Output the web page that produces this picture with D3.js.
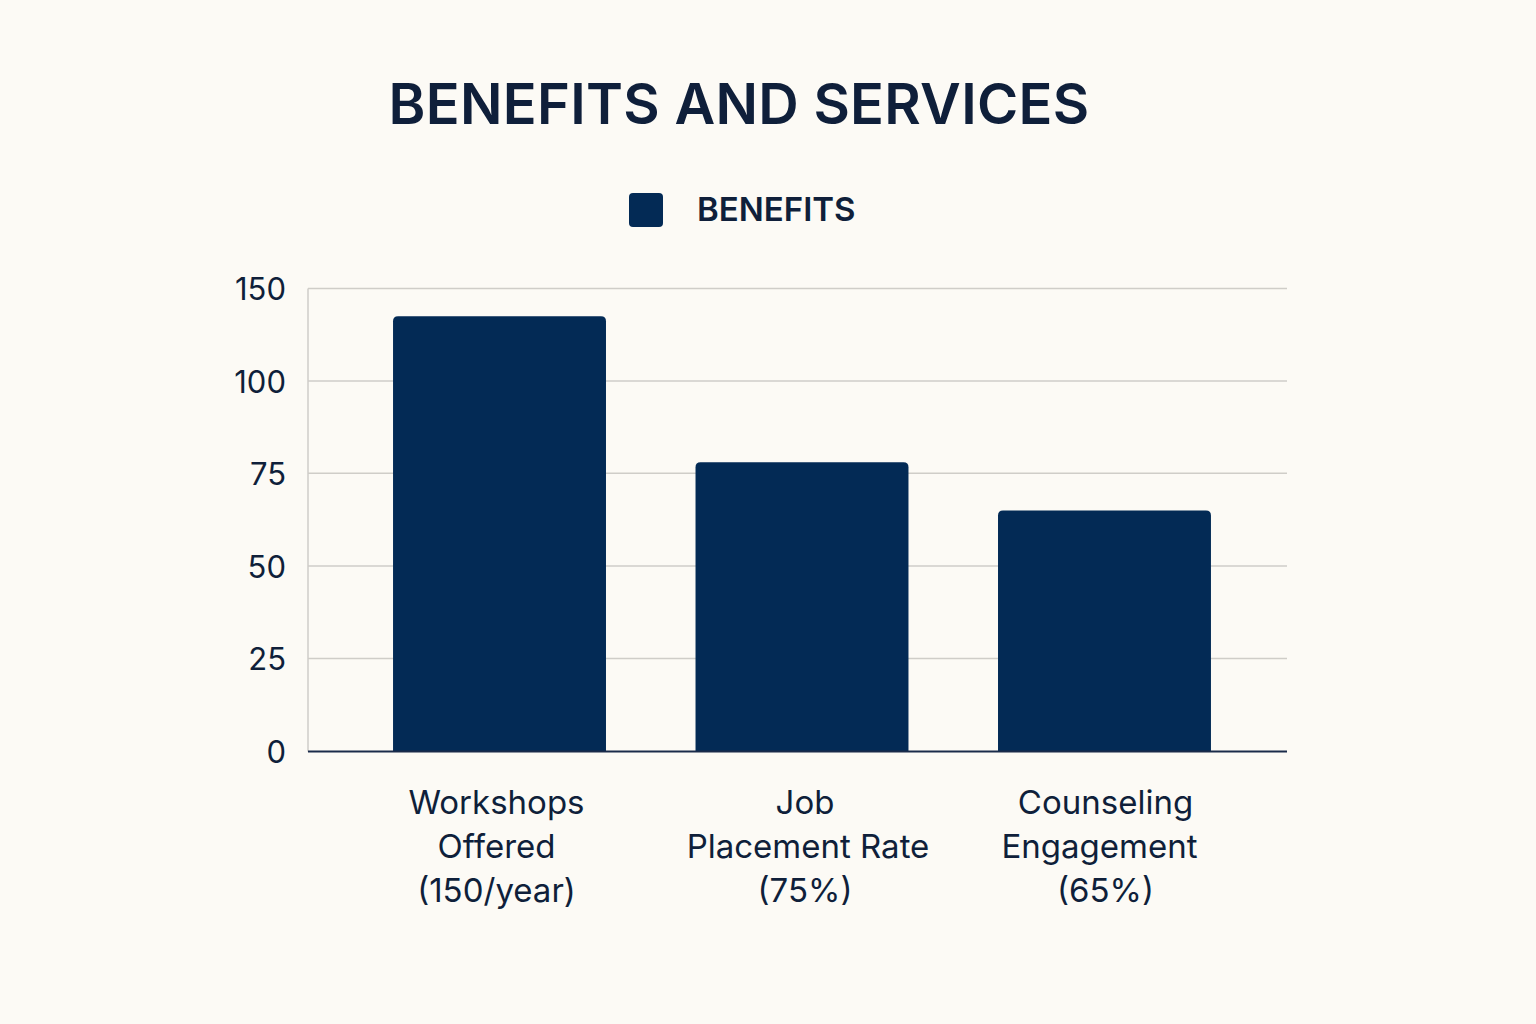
<!DOCTYPE html>
<html><head><meta charset="utf-8">
<script src="https://cdn.jsdelivr.net/npm/d3@7/dist/d3.min.js"></script>
<style>
html,body{margin:0;padding:0;background:#fcfaf5;}
svg{display:block;font-family:Inter,"Noto Sans",sans-serif;}
</style></head>
<body>
<script>
const categories = [
  ["Workshops", "Offered", "(150/year)"],
  ["Job", "Placement Rate", "(75%)"],
  ["Counseling", "Engagement", "(65%)"]
];
const categoryKeys = ["Workshops Offered", "Job Placement Rate", "Counseling Engagement"];
const benefits = [135, 78, 65];
const yTicks = [0, 25, 50, 75, 100, 150];
const seriesName = "BENEFITS";
const titleText = "BENEFITS AND SERVICES";

const W = 1536, H = 1024;
const ink = "#0f1f3a", barColor = "#032a55";
const svg = d3.select("body").append("svg").attr("width", W).attr("height", H);
svg.append("rect").attr("width", W).attr("height", H).attr("fill", "#fcfaf5");

const plotLeft = 308, plotRight = 1287;
const y = d3.scaleLinear().domain(yTicks).range([751.5, 658.5, 566, 473.3, 381, 288.5]);
const x = d3.scaleBand().domain(categoryKeys).range([303.5, 1300.5]).padding(0.296);

// gridlines
svg.append("g").selectAll("line").data(yTicks.filter(d => d > 0)).join("line")
  .attr("x1", plotLeft).attr("x2", plotRight)
  .attr("y1", d => y(d)).attr("y2", d => y(d))
  .attr("stroke", "#cfcdc8").attr("stroke-width", 1.5);
// left axis line
svg.append("line").attr("x1", plotLeft).attr("x2", plotLeft)
  .attr("y1", y(150)).attr("y2", y(0)).attr("stroke", "#cfcdc8").attr("stroke-width", 1.5);

// y axis labels
const yAxis = d3.axisLeft(y).tickValues(yTicks).tickSize(0).tickPadding(22);
const gy = svg.append("g").attr("transform", `translate(${plotLeft},0)`).call(yAxis);
gy.select(".domain").remove();
gy.selectAll("text").attr("font-size", 31).attr("fill", ink).attr("font-family", "Inter,sans-serif")
  .attr("dy", "0.36em");

// bars with rounded top corners
const r = 5;
function barPath(d, i) {
  const x0 = x(categoryKeys[i]), w = x.bandwidth(), y0 = y(d), y1 = y(0);
  return `M${x0},${y1} L${x0},${y0 + r} Q${x0},${y0} ${x0 + r},${y0} L${x0 + w - r},${y0} Q${x0 + w},${y0} ${x0 + w},${y0 + r} L${x0 + w},${y1} Z`;
}
svg.append("g").selectAll("path").data(benefits).join("path")
  .attr("d", barPath).attr("fill", barColor);

// baseline
svg.append("line").attr("x1", plotLeft).attr("x2", plotRight)
  .attr("y1", y(0)).attr("y2", y(0)).attr("stroke", "#1a2b4a").attr("stroke-width", 2);

// x labels
const lineShift = [[-3, -3, -3], [3, 6, 3], [1, -5, 1]];
const xl = svg.append("g");
categories.forEach((lines, i) => {
  const cx = x(categoryKeys[i]) + x.bandwidth() / 2;
  const t = xl.append("text").attr("text-anchor", "middle").attr("font-size", 33)
    .attr("fill", ink).attr("font-family", "Inter,sans-serif");
  lines.forEach((ln, j) => {
    t.append("tspan").attr("x", cx + lineShift[i][j]).attr("y", 814 + j * 44).text(ln);
  });
});

// title
svg.append("text").attr("x", 739).attr("y", 124).attr("text-anchor", "middle")
  .attr("font-size", 56).attr("font-weight", 600).attr("fill", ink)
  .attr("letter-spacing", 0.3).attr("font-family", "Inter,sans-serif").text(titleText);

// legend
svg.append("rect").attr("x", 629).attr("y", 193).attr("width", 34).attr("height", 34)
  .attr("rx", 4).attr("fill", barColor);
svg.append("text").attr("x", 697).attr("y", 221).attr("font-size", 33).attr("font-weight", 600)
  .attr("fill", ink).attr("font-family", "Inter,sans-serif").text(seriesName);
</script>
</body></html>
